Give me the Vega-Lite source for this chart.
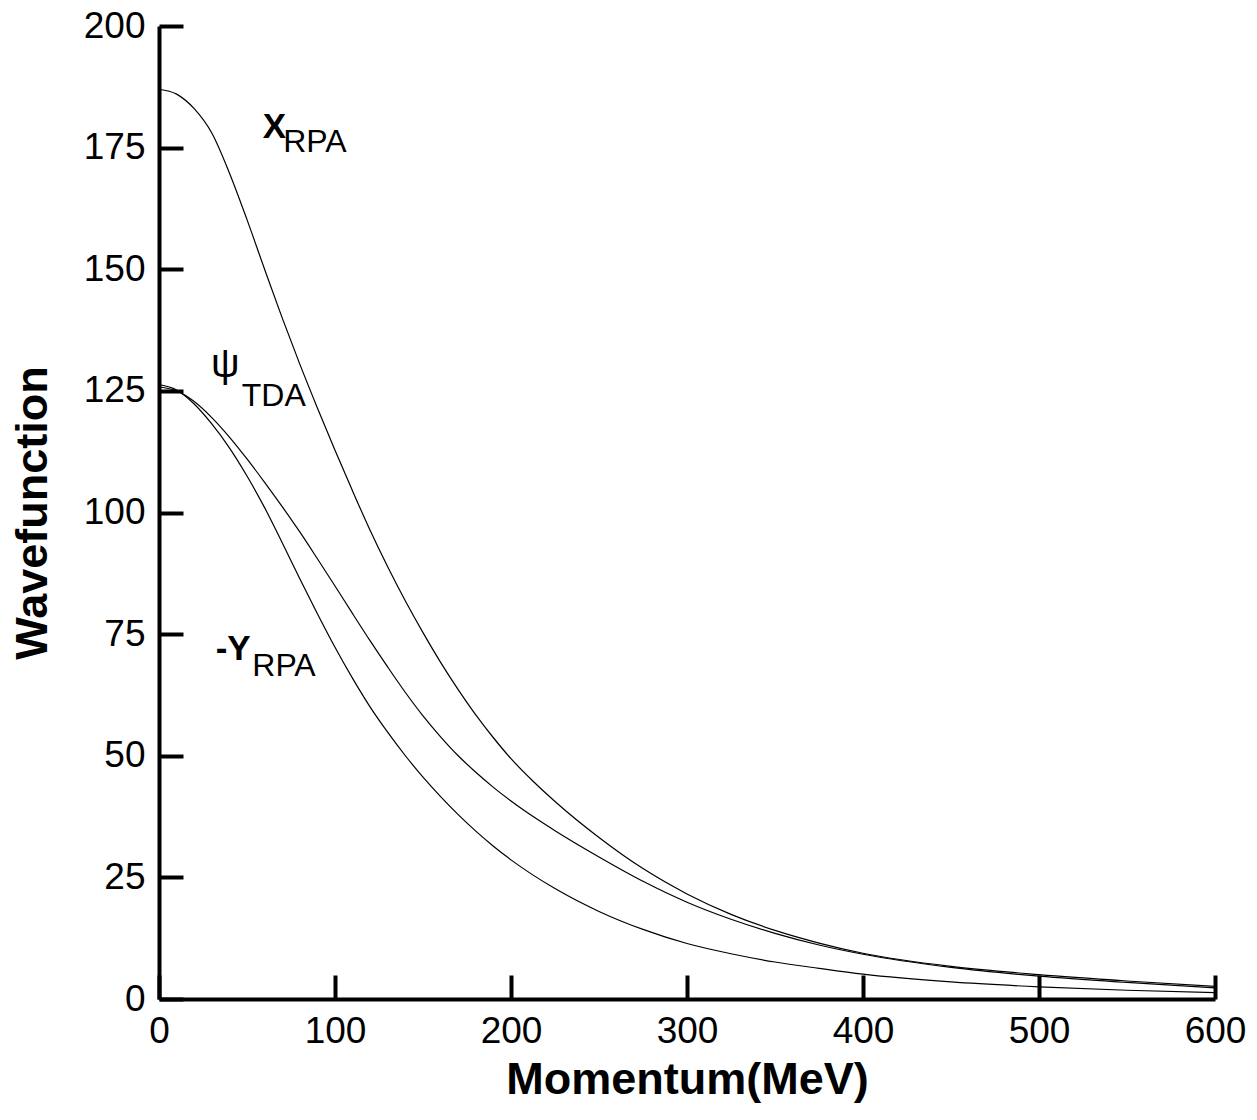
{
  "$schema": "https://vega.github.io/schema/vega-lite/v6.json",
  "width": 1056,
  "height": 973,
  "autosize": {"type": "none"},
  "padding": {"left": 159, "top": 26, "right": 42, "bottom": 121},
  "background": "white",
  "config": {
    "view": {"stroke": null},
    "font": "Liberation Sans",
    "axis": {
      "domainColor": "black",
      "domainWidth": 4,
      "tickColor": "black",
      "tickWidth": 4,
      "tickSize": -24,
      "grid": false,
      "labelFont": "Liberation Sans",
      "labelFontSize": 37,
      "labelColor": "black",
      "labelFlush": false,
      "labelOverlap": false,
      "labelPadding": 38,
      "titleFont": "Liberation Sans",
      "titleFontSize": 45,
      "titleFontWeight": "bold",
      "titleColor": "black"
    }
  },
  "layer": [
    {
      "data": {"values": [
        {"series": "X", "p": 0, "v": 187},
        {"series": "X", "p": 10, "v": 186},
        {"series": "X", "p": 20, "v": 183},
        {"series": "X", "p": 30, "v": 178},
        {"series": "X", "p": 40, "v": 169.8},
        {"series": "X", "p": 50, "v": 160.2},
        {"series": "X", "p": 60, "v": 150},
        {"series": "X", "p": 70, "v": 140},
        {"series": "X", "p": 80, "v": 130.5},
        {"series": "X", "p": 90, "v": 121.5},
        {"series": "X", "p": 100, "v": 112.8},
        {"series": "X", "p": 110, "v": 104.4},
        {"series": "X", "p": 120, "v": 96.3},
        {"series": "X", "p": 130, "v": 88.8},
        {"series": "X", "p": 140, "v": 81.8},
        {"series": "X", "p": 150, "v": 75.3},
        {"series": "X", "p": 160, "v": 69.2},
        {"series": "X", "p": 170, "v": 63.6},
        {"series": "X", "p": 180, "v": 58.4},
        {"series": "X", "p": 190, "v": 53.7},
        {"series": "X", "p": 200, "v": 49.4},
        {"series": "X", "p": 213, "v": 44.6},
        {"series": "X", "p": 225, "v": 40.6},
        {"series": "X", "p": 250, "v": 33.2},
        {"series": "X", "p": 275, "v": 26.8},
        {"series": "X", "p": 300, "v": 21.6},
        {"series": "X", "p": 325, "v": 17.4},
        {"series": "X", "p": 350, "v": 14.1},
        {"series": "X", "p": 375, "v": 11.5},
        {"series": "X", "p": 400, "v": 9.4},
        {"series": "X", "p": 450, "v": 6.7},
        {"series": "X", "p": 500, "v": 5.0},
        {"series": "X", "p": 550, "v": 3.7},
        {"series": "X", "p": 600, "v": 2.6},
        {"series": "psi", "p": 0, "v": 125.8},
        {"series": "psi", "p": 10, "v": 125},
        {"series": "psi", "p": 20, "v": 122.8},
        {"series": "psi", "p": 30, "v": 119.5},
        {"series": "psi", "p": 40, "v": 115.5},
        {"series": "psi", "p": 50, "v": 111},
        {"series": "psi", "p": 60, "v": 106.2},
        {"series": "psi", "p": 70, "v": 101.2},
        {"series": "psi", "p": 80, "v": 96},
        {"series": "psi", "p": 90, "v": 90.5},
        {"series": "psi", "p": 100, "v": 84.9},
        {"series": "psi", "p": 110, "v": 79.2},
        {"series": "psi", "p": 120, "v": 73.6},
        {"series": "psi", "p": 130, "v": 68.2},
        {"series": "psi", "p": 140, "v": 63},
        {"series": "psi", "p": 150, "v": 58.2},
        {"series": "psi", "p": 160, "v": 53.9},
        {"series": "psi", "p": 170, "v": 50},
        {"series": "psi", "p": 180, "v": 46.6},
        {"series": "psi", "p": 190, "v": 43.5},
        {"series": "psi", "p": 200, "v": 40.7},
        {"series": "psi", "p": 213, "v": 37.4},
        {"series": "psi", "p": 225, "v": 34.6},
        {"series": "psi", "p": 250, "v": 29.2},
        {"series": "psi", "p": 275, "v": 24.2},
        {"series": "psi", "p": 300, "v": 19.9},
        {"series": "psi", "p": 325, "v": 16.4},
        {"series": "psi", "p": 350, "v": 13.5},
        {"series": "psi", "p": 375, "v": 11.1},
        {"series": "psi", "p": 400, "v": 9.2},
        {"series": "psi", "p": 450, "v": 6.5},
        {"series": "psi", "p": 500, "v": 4.7},
        {"series": "psi", "p": 550, "v": 3.4},
        {"series": "psi", "p": 600, "v": 2.3},
        {"series": "Y", "p": 0, "v": 126.3},
        {"series": "Y", "p": 10, "v": 125.2},
        {"series": "Y", "p": 20, "v": 122.3},
        {"series": "Y", "p": 30, "v": 118.2},
        {"series": "Y", "p": 40, "v": 113.3},
        {"series": "Y", "p": 50, "v": 107.5},
        {"series": "Y", "p": 60, "v": 101},
        {"series": "Y", "p": 70, "v": 93.8},
        {"series": "Y", "p": 80, "v": 86.4},
        {"series": "Y", "p": 90, "v": 79.2},
        {"series": "Y", "p": 100, "v": 72.3},
        {"series": "Y", "p": 110, "v": 65.9},
        {"series": "Y", "p": 120, "v": 60},
        {"series": "Y", "p": 130, "v": 54.8},
        {"series": "Y", "p": 140, "v": 50},
        {"series": "Y", "p": 150, "v": 45.6},
        {"series": "Y", "p": 160, "v": 41.6},
        {"series": "Y", "p": 170, "v": 37.9},
        {"series": "Y", "p": 180, "v": 34.5},
        {"series": "Y", "p": 190, "v": 31.4},
        {"series": "Y", "p": 200, "v": 28.6},
        {"series": "Y", "p": 225, "v": 22.7},
        {"series": "Y", "p": 250, "v": 18},
        {"series": "Y", "p": 275, "v": 14.3},
        {"series": "Y", "p": 300, "v": 11.4},
        {"series": "Y", "p": 325, "v": 9.3},
        {"series": "Y", "p": 350, "v": 7.6},
        {"series": "Y", "p": 375, "v": 6.3},
        {"series": "Y", "p": 400, "v": 5.1},
        {"series": "Y", "p": 450, "v": 3.5},
        {"series": "Y", "p": 500, "v": 2.5},
        {"series": "Y", "p": 550, "v": 1.8},
        {"series": "Y", "p": 600, "v": 1.3}
      ]},
      "mark": {"type": "line", "color": "black", "strokeWidth": 1.2, "interpolate": "monotone"},
      "encoding": {
        "x": {
          "field": "p", "type": "quantitative",
          "scale": {"domain": [0, 600], "nice": false},
          "axis": {"values": [0, 100, 200, 300, 400, 500, 600], "title": "Momentum(MeV)", "titlePadding": 8}
        },
        "y": {
          "field": "v", "type": "quantitative",
          "scale": {"domain": [0, 200], "nice": false},
          "axis": {"values": [0, 25, 50, 75, 100, 125, 150, 175, 200], "title": "Wavefunction", "titlePadding": 28}
        },
        "detail": {"field": "series"}
      }
    },
    {
      "data": {"values": [
        {"t": "X", "p": 58.9, "v": 176.9},
        {"t": "-Y", "p": 32.2, "v": 69.7}
      ]},
      "mark": {"type": "text", "align": "left", "baseline": "alphabetic", "fontSize": 35, "fontWeight": "bold", "color": "black", "font": "Liberation Sans"},
      "encoding": {
        "x": {"field": "p", "type": "quantitative"},
        "y": {"field": "v", "type": "quantitative"},
        "text": {"field": "t"}
      }
    },
    {
      "data": {"values": [
        {"t": "RPA", "p": 70.6, "v": 174.2},
        {"t": "TDA", "p": 47, "v": 121.8},
        {"t": "RPA", "p": 53, "v": 66.3}
      ]},
      "mark": {"type": "text", "align": "left", "baseline": "alphabetic", "fontSize": 32, "color": "black", "font": "Liberation Sans"},
      "encoding": {
        "x": {"field": "p", "type": "quantitative"},
        "y": {"field": "v", "type": "quantitative"},
        "text": {"field": "t"}
      }
    },
    {
      "data": {"values": [
        {"t": "ψ", "p": 29.6, "v": 127.8}
      ]},
      "mark": {"type": "text", "align": "left", "baseline": "alphabetic", "fontSize": 40, "color": "black", "font": "Liberation Sans"},
      "encoding": {
        "x": {"field": "p", "type": "quantitative"},
        "y": {"field": "v", "type": "quantitative"},
        "text": {"field": "t"}
      }
    }
  ]
}
